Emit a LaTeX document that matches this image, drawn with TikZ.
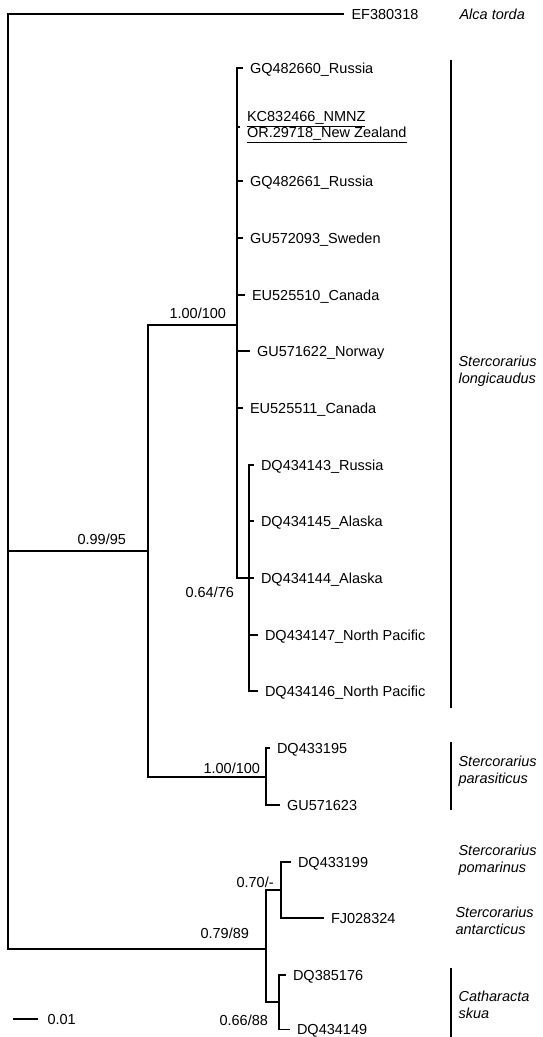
\documentclass[tikz,border=0pt]{standalone}
\usepackage{fontspec}
\setmainfont{Liberation Sans}
\begin{document}
\begin{tikzpicture}[x=1pt,y=-1pt,line width=1.1pt,
  tip/.style={anchor=west,inner xsep=7.5pt,inner ysep=0pt,outer sep=0pt,text height=10.4pt,text depth=0pt,font=\fontsize{14.5}{16}\selectfont},
  supp/.style={anchor=base west,inner sep=0pt,font=\fontsize{14.5}{16}\selectfont},
  spec/.style={anchor=west,align=left,inner sep=0pt,font=\fontsize{14.5}{17}\selectfont\itshape},
  branch/.style={line width=1.1pt}]
\useasboundingbox (0,0) rectangle (543,1037);
% internal nodes
\coordinate (root) at (8,551);
\coordinate (A) at (148,551);
\coordinate (L) at (237,325);
\coordinate (L2) at (249,578);
\coordinate (P) at (266,777);
\coordinate (B) at (266,949);
\coordinate (PA) at (281,890);
\coordinate (C) at (279,1002);
% tips
\node[tip] (ef) at (344,14) {EF380318};
\node[tip] (t1) at (242.5,68) {GQ482660\_Russia};
\node[anchor=west,align=left,inner xsep=7.5pt,inner ysep=0pt,outer sep=0pt,font=\fontsize{14.5}{16}\selectfont] (t2) at (239.5,127) {\underline{KC832466\_NMNZ}\\\underline{OR.29718\_New Zealand}};
\node[tip] (t3) at (242.5,181) {GQ482661\_Russia};
\node[tip] (t4) at (242.5,238) {GU572093\_Sweden};
\node[tip] (t5) at (244.5,295) {EU525510\_Canada};
\node[tip] (t6) at (249.5,351) {GU571622\_Norway};
\node[tip] (t7) at (242.5,408) {EU525511\_Canada};
\node[tip] (t8) at (253.5,465) {DQ434143\_Russia};
\node[tip] (t9) at (253.5,521) {DQ434145\_Alaska};
\node[tip] (t10) at (253.5,578) {DQ434144\_Alaska};
\node[tip] (t11) at (257.5,635) {DQ434147\_North Pacific};
\node[tip] (t12) at (257.5,691) {DQ434146\_North Pacific};
\node[tip] (t13) at (269.5,748) {DQ433195};
\node[tip] (t14) at (279.5,805) {GU571623};
\node[tip] (t15) at (290.5,862) {DQ433199};
\node[tip] (t16) at (323.5,918) {FJ028324};
\node[tip] (t17) at (285.5,975) {DQ385176};
\node[tip] (t18) at (289.5,1029.5) {DQ434149};
% branches
\draw[branch] (root) |- (ef.west);
\draw[branch] (root) -- (A);
\draw[branch] (root) |- (B);
\draw[branch] (A) |- (L);
\draw[branch] (A) |- (P);
\foreach \t in {t1,t2,t3,t4,t5,t6,t7} \draw[branch] (L) |- (\t.west);
\draw[branch] (L) |- (L2);
\foreach \t in {t8,t9,t10,t11,t12} \draw[branch] (L2) |- (\t.west);
\draw[branch] (P) |- (t13.west);
\draw[branch] (P) |- (t14.west);
\draw[branch] (B) |- (PA);
\draw[branch] (B) |- (C);
\draw[branch] (PA) |- (t15.west);
\draw[branch] (PA) |- (t16.west);
\draw[branch] (C) |- (t17.west);
\draw[branch] (C) |- (t18.west);
% support values
\node[supp] (s1) at (169,318) {1.00/100};
\node[supp] (s2) at (77,544) {0.99/95};
\node[supp] (s3) at (185,597) {0.64/76};
\node[supp] (s4) at (203,773) {1.00/100};
\node[supp] (s5) at (236,887) {0.70/-};
\node[supp] (s6) at (200,938) {0.79/89};
\node[supp] (s7) at (219,1025) {0.66/88};
% species bars
\coordinate (b1a) at (451,60); \coordinate (b1b) at (451,708);
\coordinate (b2a) at (451,742); \coordinate (b2b) at (451,810);
\coordinate (b3a) at (451,968); \coordinate (b3b) at (451,1037);
\draw[branch] (b1a) -- (b1b);
\draw[branch] (b2a) -- (b2b);
\draw[branch] (b3a) -- (b3b);
% species names
\node[spec] (sp0) at (459,14) {Alca torda};
\node[spec] (sp1) at (458,371) {Stercorarius\\longicaudus};
\node[spec] (sp2) at (458,771) {Stercorarius\\parasiticus};
\node[spec] (sp3) at (458,860) {Stercorarius\\pomarinus};
\node[spec] (sp4) at (455,921) {Stercorarius\\antarcticus};
\node[spec] (sp5) at (458,1005) {Catharacta\\skua};
% scale bar
\coordinate (sc1) at (13,1019);
\coordinate (sc2) at (38,1019);
\draw[branch] (sc1) -- (sc2);
\node[supp] (sc) at (47,1024) {0.01};
\end{tikzpicture}
\end{document}
